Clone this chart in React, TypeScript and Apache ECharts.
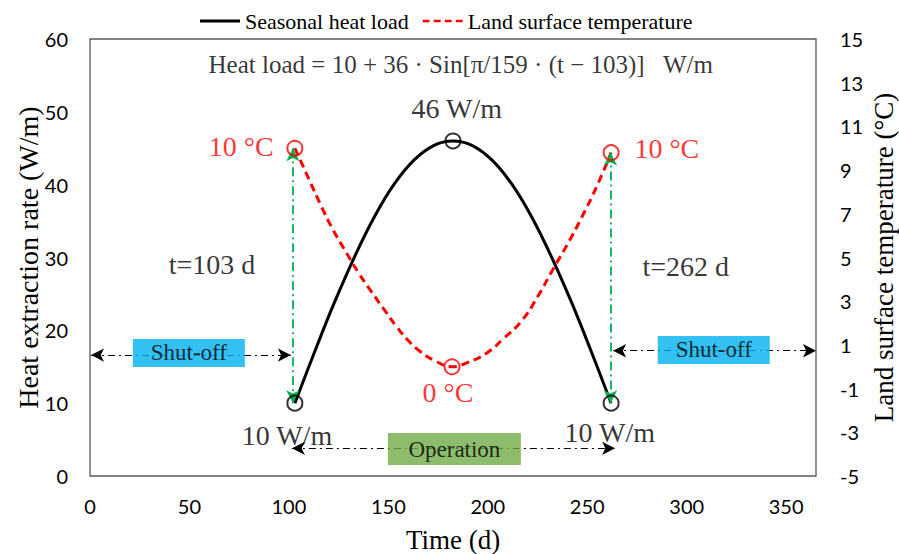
import React, { useEffect, useRef } from "react";
import * as echarts from "echarts";

const SERIF = "Liberation Serif";
const SANS = "Lato";

// Seasonal heat load (W/m)
const LOAD_T = [103, 113, 123, 133, 143, 153, 163, 173, 182.5, 192, 202, 212, 222, 232, 242, 252, 262];
const LOAD_V = [10, 17.1, 23.9, 30.1, 35.6, 40.1, 43.4, 45.4, 46, 45.4, 43.4, 40.1, 35.6, 30.1, 23.9, 17.1, 10];

// Land surface temperature (°C)
const TEMP_T = [103, 110, 116, 122, 129, 135, 141, 148, 154, 160, 166, 174, 182, 190, 199, 208, 217, 225, 233, 240, 247, 255, 262];
const TEMP_V = [10, 8.6, 7.4, 6.3, 5.2, 4.3, 3.5, 2.6, 1.85, 1.2, 0.7, 0.25, 0, 0.2, 0.6, 1.3, 2.1, 3.2, 4.5, 5.6, 6.8, 8.3, 9.8];

// key points
const LOAD_MARKS: [number, number][] = [[103, 10], [182.5, 46], [262, 10]];
const TEMP_MARKS: [number, number][] = [[103, 10], [182, 0], [262, 9.8]];

// tick settings
const X_MIN = 0, X_MAX = 365, X_STEP = 50;
const YL_MIN = 0, YL_MAX = 60, YL_STEP = 10;
const YR_MIN = -5, YR_MAX = 15, YR_STEP = 2;

// green arrows (x in days, y in W/m on the left axis)
const GREEN_ARROWS = [
  { x: 102, from: 45, to: 10 },
  { x: 261.7, from: 44.4, to: 10 },
];
// black period arrows
const PERIOD_ARROWS = [
  { x1: 0.5, x2: 101, y: 16.6 },
  { x1: 263, x2: 365, y: 17.2 },
  { x1: 101.5, x2: 264, y: 3.8 },
];
// period boxes
const BOXES = [
  { name: "Shut-off", t: 49.7, v: 16.9, color: "#00B0F0", w: 112, h: 28 },
  { name: "Shut-off", t: 313.6, v: 17.3, color: "#00B0F0", w: 112, h: 28 },
  { name: "Operation", t: 183.2, v: 3.7, color: "#70AD47", w: 133, h: 32 },
];
// annotations
const NOTES = [
  { text: "10 °C", t: 76, v: 45.2, color: "#FF0000" },
  { text: "10 °C", t: 290, v: 45, color: "#FF0000" },
  { text: "0 °C", t: 180, v: 11.5, color: "#FF0000" },
  { text: "46 W/m", t: 184.4, v: 50.5, color: "#000000" },
  { text: "t=103 d", t: 61.3, v: 29.0, color: "#000000" },
  { text: "t=262 d", t: 299.5, v: 28.7, color: "#000000" },
  { text: "10 W/m", t: 99, v: 5.6, color: "#000000" },
  { text: "10 W/m", t: 261.3, v: 6.0, color: "#000000" },
];
const FORMULA = { text: "Heat load = 10 + 36 · Sin[π/159 · (t − 103)]   W/m", t: 186.4, v: 56.5 };

const LEGEND_SOLID = "path://M0,0H40V3H0Z";
const LEGEND_DASHED = "path://M0,0H8V3H0Z M13,0H21V3H13Z M26,0H34V3H26Z M39,0H47V3H39Z";

export default function App() {
  const ref = useRef<HTMLDivElement>(null);
  useEffect(() => {
    if (!ref.current) return;
    const chart = echarts.init(ref.current, undefined, { renderer: "svg" });
    const zip = (a: number[], b: number[]) => a.map((x, i) => [x, b[i]]);
    const option: any = {
      animation: false,
      backgroundColor: "#ffffff",
      grid: {
        left: 90, right: 83, top: 39, bottom: 78,
        containLabel: false, outerBoundsMode: "none",
        show: true, borderColor: "#595959", borderWidth: 1.3, backgroundColor: "transparent",
      },
      legend: {
        data: [
          { name: "Seasonal heat load", icon: LEGEND_SOLID },
          { name: "Land surface temperature", icon: LEGEND_DASHED },
        ],
        left: 195,
        top: 5,
        itemWidth: 40,
        itemHeight: 14,
        itemGap: 14,
        textStyle: { fontFamily: SERIF, fontSize: 22, color: "#000" },
      },
      xAxis: {
        type: "value",
        min: X_MIN,
        max: X_MAX,
        interval: X_STEP,
        name: "Time (d)",
        nameLocation: "middle",
        nameGap: 50,
        nameTextStyle: { fontFamily: SERIF, fontSize: 27, color: "#000" },
        axisLine: { show: false },
        axisTick: { show: false },
        splitLine: { show: false },
        axisLabel: {
          fontFamily: SANS, fontSize: 20, color: "#000", margin: 20,
          formatter: (v: number) => (v % X_STEP === 0 ? String(v) : ""),
        },
      },
      yAxis: [
        {
          type: "value",
          min: YL_MIN,
          max: YL_MAX,
          interval: YL_STEP,
          name: "Heat extraction rate (W/m)",
          nameLocation: "middle",
          nameRotate: 90,
          nameGap: 48,
          nameMoveOverlap: false,
          nameTextStyle: { fontFamily: SERIF, fontSize: 28, color: "#000" },
          axisLine: { show: false },
          axisTick: { show: false },
          splitLine: { show: false },
          axisLabel: { fontFamily: SANS, fontSize: 20, color: "#000", margin: 22 },
        },
        {
          type: "value",
          position: "right",
          min: YR_MIN,
          max: YR_MAX,
          interval: YR_STEP,
          name: "Land surface temperature (°C)",
          nameLocation: "middle",
          nameRotate: 90,
          nameGap: 54,
          nameMoveOverlap: false,
          nameTextStyle: { fontFamily: SERIF, fontSize: 27, color: "#000" },
          axisLine: { show: false },
          axisTick: { show: false },
          splitLine: { show: false },
          axisLabel: { fontFamily: SANS, fontSize: 20, color: "#000", margin: 24 },
        },
      ],
      series: [
        {
          name: "Seasonal heat load",
          type: "line",
          yAxisIndex: 0,
          data: zip(LOAD_T, LOAD_V),
          smooth: 0.4,
          symbol: "none",
          lineStyle: { color: "#000", width: 3 },
          itemStyle: { color: "#000" },
          z: 3,
        },
        {
          name: "Land surface temperature",
          type: "line",
          yAxisIndex: 1,
          data: zip(TEMP_T, TEMP_V),
          smooth: 0.5,
          symbol: "none",
          lineStyle: { color: "#FF0000", width: 3, type: [8, 5] },
          itemStyle: { color: "#FF0000" },
          z: 3,
        },
        {
          name: "arrows",
          type: "line",
          yAxisIndex: 0,
          data: [],
          z: 2,
          markLine: {
            silent: true,
            symbol: ["arrow", "arrow"],
            symbolSize: [10, 13],
            label: { show: false },
            data: [
              ...GREEN_ARROWS.map((a) => [
                { coord: [a.x, a.from], lineStyle: { color: "#00B050", width: 1.8, type: [9, 4, 2, 4] }, itemStyle: { color: "#00B050" } },
                { coord: [a.x, a.to] },
              ]),
              ...PERIOD_ARROWS.map((a) => [
                { coord: [a.x1, a.y], lineStyle: { color: "#000", width: 1, type: [7, 4, 2, 4] }, itemStyle: { color: "#000" } },
                { coord: [a.x2, a.y] },
              ]),
            ],
          },
        },
        {
          name: "boxes",
          type: "scatter",
          yAxisIndex: 0,
          symbol: "rect",
          z: 5,
          data: BOXES.map((b) => ({
            value: [b.t, b.v],
            symbolSize: [b.w, b.h],
            itemStyle: { color: b.color },
            label: { show: true, position: "inside", formatter: b.name, fontFamily: SERIF, fontSize: 23, color: "#000" },
          })),
        },
        {
          name: "loadMarks",
          type: "scatter",
          yAxisIndex: 0,
          symbol: "circle",
          symbolSize: 15,
          itemStyle: { color: "rgba(0,0,0,0)", borderColor: "#000", borderWidth: 2 },
          data: LOAD_MARKS,
          z: 6,
        },
        {
          name: "tempMarks",
          type: "scatter",
          yAxisIndex: 1,
          symbol: "circle",
          symbolSize: 15,
          itemStyle: { color: "rgba(0,0,0,0)", borderColor: "#FF0000", borderWidth: 2 },
          data: TEMP_MARKS,
          z: 6,
        },
        {
          name: "notes",
          type: "scatter",
          yAxisIndex: 0,
          symbolSize: 0,
          z: 7,
          data: [
            ...NOTES.map((n) => ({
              value: [n.t, n.v],
              label: { show: true, position: "inside", formatter: n.text, fontFamily: SERIF, fontSize: 28, color: n.color },
            })),
            {
              value: [FORMULA.t, FORMULA.v],
              label: { show: true, position: "inside", formatter: FORMULA.text, fontFamily: SERIF, fontSize: 25, color: "#000" },
            },
          ],
        },
      ],
    };
    chart.setOption(option);
    return () => chart.dispose();
  }, []);
  return <div ref={ref} style={{ position: "absolute", left: 0, top: 0, width: 899, height: 554 }} />;
}
